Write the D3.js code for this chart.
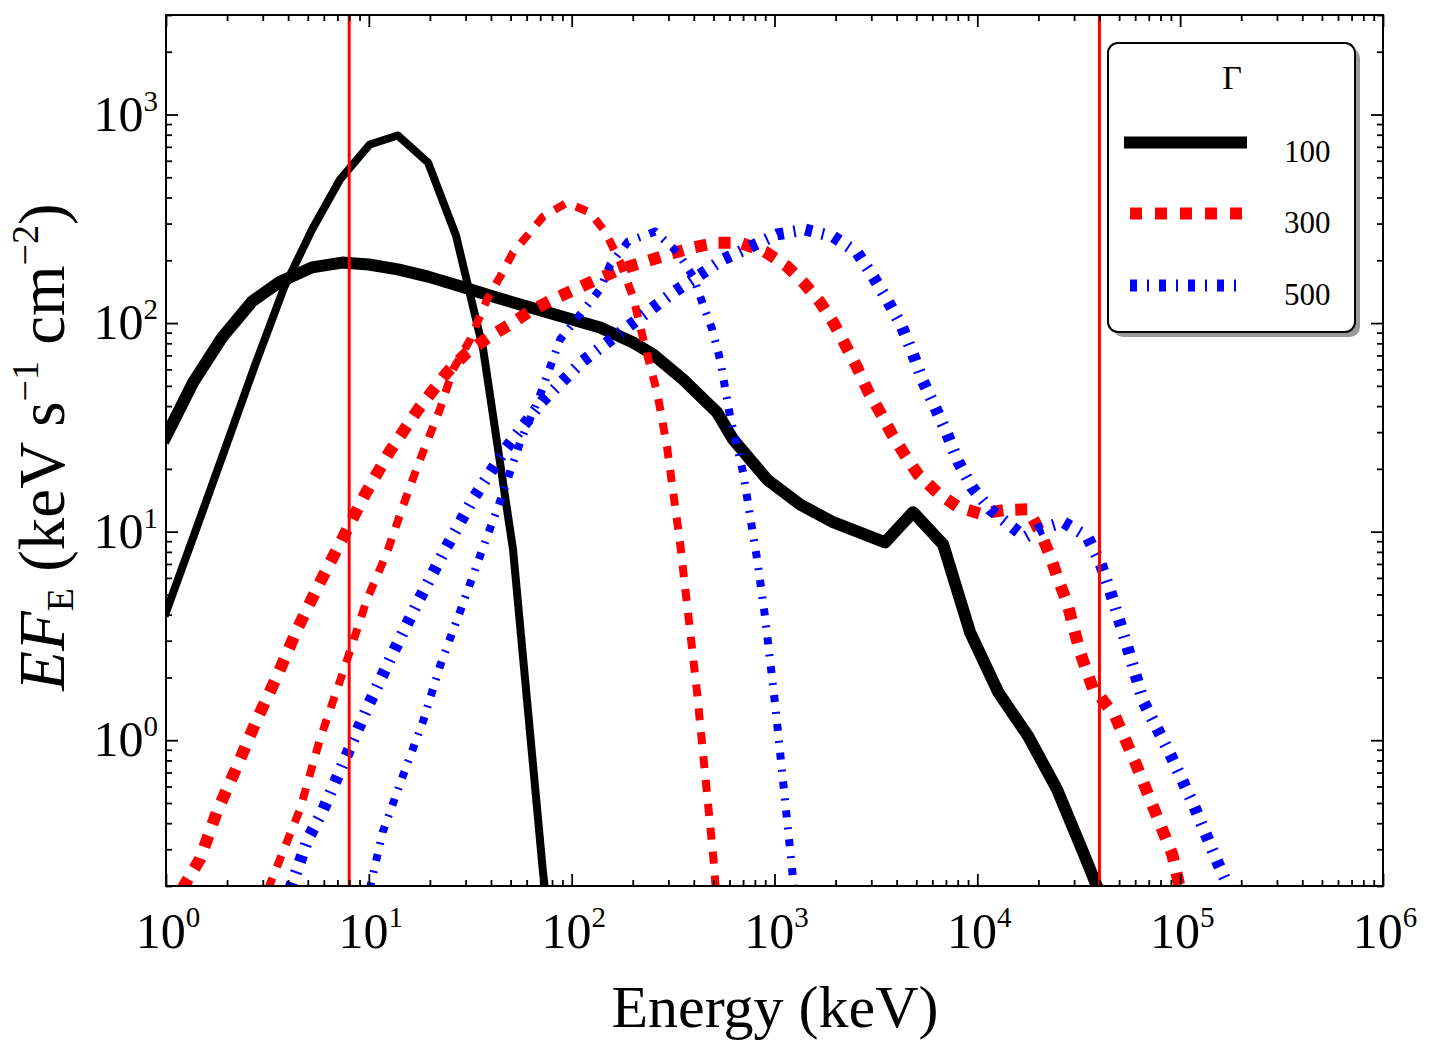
<!DOCTYPE html>
<html><head><meta charset="utf-8">
<script src="https://cdn.jsdelivr.net/npm/d3@7"></script>
<style>
body{margin:0;background:#fff}
svg{display:block}
text{font-family:"Liberation Serif","DejaVu Serif",serif;fill:#000;white-space:pre}
</style>
</head><body>
<svg id="c" width="1431" height="1056"></svg>
<script>
// ---------------- data (keV, keV s^-1 cm^-2) ----------------
const energyBlackNarrow = [1, 1.41, 1.95, 2.75, 3.82, 5.25, 7.21, 10.1, 13.9, 19.6, 26.9, 36.6, 51.4, 72.3, 75];
const fluxBlackNarrow   = [4.1, 10.3, 24.8, 63, 148, 281, 488, 718, 793, 588, 263, 75, 8.2, 0.23, 0.17];

const energyBlackBroad = [1, 1.36, 1.89, 2.66, 3.65, 5.25, 7.38, 10, 13.9, 19.6, 28.2, 41, 60.3, 87.7, 138, 201, 252, 354, 521, 625, 919, 1337, 1945, 3510, 4820, 6780, 9210, 12670, 17800, 24700, 33200, 40300];
const fluxBlackBroad   = [28.6, 51.9, 85.3, 127, 158, 185, 195, 191, 181, 167, 150, 134, 120, 108, 95.3, 80.7, 70.8, 53.7, 37.3, 27.7, 17.8, 13.5, 11.1, 8.89, 12.4, 8.69, 3.29, 1.70, 1.045, 0.582, 0.291, 0.183];

const energyRedNarrow = [3.18, 4.58, 5.74, 7.46, 9.8, 12.3, 14.7, 17.9, 22.4, 26, 31.6, 38.3, 44.4, 51.4, 62.3, 72.3, 94.9, 123, 146, 173, 201, 230, 264, 295, 342, 415, 504, 515];
const fluxRedNarrow   = [0.193, 0.467, 1.01, 2.12, 4.74, 7.96, 13.2, 22.2, 38.5, 59.9, 83.4, 130, 167, 218, 272, 324, 378, 339, 275, 197, 133, 77.3, 46.5, 25.6, 8.89, 1.70, 0.249, 0.183];

const energyRedBroad = [1.2, 1.47, 1.78, 2.24, 2.81, 3.53, 4.43, 5.74, 7.38, 9.58, 12.7, 17.5, 24.3, 30.5, 38.7, 48.6, 62.3, 80.9, 104, 133, 173, 230, 299, 392, 521, 676, 899, 1153, 1383, 1678, 1945, 2230, 2555, 2895, 3318, 3800, 4405, 5100, 6340, 8040, 10300, 13700, 17800, 20400, 22900, 25000, 27700, 32100, 37200, 40300, 47800, 60000, 73600, 91400, 100000];
const fluxRedBroad   = [0.193, 0.269, 0.452, 0.750, 1.26, 2.03, 3.40, 5.71, 9.18, 15.1, 24.3, 38.6, 58, 72.3, 85.3, 97.3, 114, 130, 145, 162, 181, 197, 213, 230, 243, 243, 220, 187, 157, 126, 101, 78.9, 61.2, 47, 37.3, 29.2, 23.2, 18.8, 15.4, 13.1, 12.2, 12.7, 12.8, 9.93, 7.62, 5.91, 4.58, 2.64, 1.76, 1.62, 1.30, 0.785, 0.478, 0.284, 0.193];

const energyBlueNarrow = [10.1, 11.7, 14.7, 18.5, 22.4, 28.2, 35.3, 44.4, 55.7, 69.8, 87.7, 110, 138, 155, 190, 258, 295, 331, 397, 440, 493, 539, 604, 700, 776, 821, 899, 1007, 1115, 1250];
const fluxBlueNarrow   = [0.193, 0.362, 0.672, 1.23, 2.26, 4.15, 7.62, 14, 26.8, 45, 83.4, 110, 145, 191, 246, 275, 243, 220, 167, 126, 93.2, 66.9, 35.7, 19.2, 10.3, 7.37, 3.88, 1.49, 0.570, 0.193];

const energyBlueBroad = [4.09, 5.01, 5.88, 7.63, 9.91, 13.2, 17.5, 23.8, 32.6, 47, 71.5, 113, 190, 316, 558, 1030, 1415, 1945, 2555, 3064, 3630, 4260, 4820, 5400, 6200, 7100, 8040, 9420, 11560, 14860, 17200, 20400, 26500, 34800, 40300, 45200, 54800, 65700, 89300, 116000, 152000, 180000];
const fluxBlueBroad   = [0.193, 0.336, 0.452, 0.811, 1.46, 2.64, 4.63, 8.23, 14.3, 24.8, 42.1, 65.5, 96.3, 140, 202, 266, 281, 260, 218, 167, 127, 95.3, 70.8, 52.5, 39.4, 29.3, 21.7, 16.3, 12.8, 10.5, 9.4, 10.3, 11.1, 9.49, 7.13, 5.18, 2.82, 1.54, 0.857, 0.494, 0.263, 0.183];

const detectorBandEdges = [8, 40000];          // keV, vertical lines
const gammaLabels = ["100", "300", "500"];
const xMajorTicks = [1, 10, 100, 1e3, 1e4, 1e5, 1e6];
const xTickExponents = ["0", "1", "2", "3", "4", "5", "6"];
const yMajorTicks = [1, 10, 100, 1000];
const yTickExponents = ["0", "1", "2", "3"];

// ---------------- styles ----------------
const seriesStyles = [
  {E: energyBlackNarrow, F: fluxBlackNarrow, color: "#000000", width: 8,  dash: null},
  {E: energyBlackBroad,  F: fluxBlackBroad,  color: "#000000", width: 12, dash: null},
  {E: energyRedNarrow,   F: fluxRedNarrow,   color: "#ff0000", width: 8,  dash: "12,12"},
  {E: energyRedBroad,    F: fluxRedBroad,    color: "#ff0000", width: 12, dash: "12,12"},
  {E: energyBlueNarrow,  F: fluxBlueNarrow,  color: "#0000ff", width: 8,  dash: "7,10,2,10"},
  {E: energyBlueBroad,   F: fluxBlueBroad,   color: "#0000ff", width: 12, dash: "7,10,2,10"}
];
const legendStyles = [
  {color: "#000000", dash: null, width: 12},
  {color: "#ff0000", dash: "12,13", width: 12},
  {color: "#0000ff", dash: "7,10,2,10", width: 12}
];

// ---------------- layout ----------------
const L = 166, R = 1383, T = 15, B = 886;
const svg = d3.select("#c");
svg.append("rect").attr("width", 1431).attr("height", 1056).attr("fill", "#fff");

const x = d3.scaleLog().domain([1, 1e6]).range([L, R]);
const y = d3.scaleLog().domain([0.2, 3000]).range([B, T]);

svg.append("defs").append("clipPath").attr("id", "plotclip")
  .append("rect").attr("x", L).attr("y", T).attr("width", R - L).attr("height", B - T);

// curves
const line = d3.line().x(d => x(d[0])).y(d => y(d[1]));
const curves = svg.append("g").attr("clip-path", "url(#plotclip)");
seriesStyles.forEach(s => {
  const pts = s.E.map((e, i) => [e, s.F[i]]);
  curves.append("path").datum(pts).attr("d", line)
    .attr("fill", "none").attr("stroke", s.color).attr("stroke-width", s.width)
    .attr("stroke-linejoin", "round")
    .attr("stroke-linecap", s.dash ? "butt" : "square")
    .attr("stroke-dasharray", s.dash);
});

// vertical band edges
curves.selectAll("line.vl").data(detectorBandEdges).enter().append("line")
  .attr("x1", d => x(d)).attr("x2", d => x(d)).attr("y1", T).attr("y2", B)
  .attr("stroke", "#ff0000").attr("stroke-width", 3);

// ticks
function minorTicks(lo, hi) {
  const out = [];
  for (let e = Math.floor(Math.log10(lo)) - 1; e <= Math.ceil(Math.log10(hi)); e++) {
    for (let m = 2; m <= 9; m++) {
      const v = m * Math.pow(10, e);
      if (v >= lo * 0.999 && v <= hi * 1.001) out.push(v);
    }
  }
  return out;
}
const xMinor = minorTicks(1, 1e6);
const yMinor = minorTicks(0.2, 3000);

function tickAxis(gen, scale, vals, size, tr) {
  svg.append("g").attr("transform", tr)
    .call(gen(scale).tickValues(vals).tickSize(size).tickSizeOuter(0).tickFormat(() => ""))
    .call(g => { g.select(".domain").remove(); g.selectAll(".tick line").attr("stroke", "#000").attr("stroke-width", 1.8); });
}
tickAxis(d3.axisBottom, x, xMajorTicks, -12, `translate(0,${B})`);
tickAxis(d3.axisBottom, x, xMinor, -6, `translate(0,${B})`);
tickAxis(d3.axisTop, x, xMajorTicks, -12, `translate(0,${T})`);
tickAxis(d3.axisTop, x, xMinor, -6, `translate(0,${T})`);
tickAxis(d3.axisLeft, y, yMajorTicks, -12, `translate(${L},0)`);
tickAxis(d3.axisLeft, y, yMinor, -6, `translate(${L},0)`);
tickAxis(d3.axisRight, y, yMajorTicks, -12, `translate(${R},0)`);
tickAxis(d3.axisRight, y, yMinor, -6, `translate(${R},0)`);

// frame
svg.append("rect").attr("x", L).attr("y", T).attr("width", R - L).attr("height", B - T)
  .attr("fill", "none").attr("stroke", "#000").attr("stroke-width", 2);

// tick labels
const xl = svg.append("g");
xMajorTicks.forEach((v, i) => {
  const t = xl.append("text").attr("x", x(v) + 2).attr("y", 948).attr("text-anchor", "middle").attr("font-size", 50);
  t.append("tspan").text("10");
  t.append("tspan").attr("font-size", 29).attr("dy", -21).text(xTickExponents[i]);
});
const yl = svg.append("g");
yMajorTicks.forEach((v, i) => {
  const t = yl.append("text").attr("x", 158).attr("y", y(v) + 16).attr("text-anchor", "end").attr("font-size", 50);
  t.append("tspan").text("10");
  t.append("tspan").attr("font-size", 29).attr("dy", -20).text(yTickExponents[i]);
});

// axis titles
svg.append("text").attr("x", 775).attr("y", 1027).attr("text-anchor", "middle")
  .attr("font-size", 60).text("Energy (keV)");

const yt = svg.append("text").attr("transform", "translate(64,447) rotate(-90)")
  .attr("text-anchor", "middle").attr("font-size", 65);
yt.append("tspan").attr("font-style", "italic").text("EF");
yt.append("tspan").attr("font-size", 38).attr("dy", 9).text("E");
yt.append("tspan").attr("dy", -9).text(" (keV s");
yt.append("tspan").attr("font-size", 38).attr("dy", -26).text("\u22121");
yt.append("tspan").attr("dy", 26).text(" cm");
yt.append("tspan").attr("font-size", 38).attr("dy", -26).text("\u22122");
yt.append("tspan").attr("dy", 26).text(")");

// legend
const lg = svg.append("g");
lg.append("rect").attr("x", 1113).attr("y", 48).attr("width", 247).attr("height", 289).attr("rx", 10).attr("fill", "#9a9a9a");
lg.append("rect").attr("x", 1108).attr("y", 43).attr("width", 247).attr("height", 289).attr("rx", 10)
  .attr("fill", "#fff").attr("stroke", "#000").attr("stroke-width", 2);
lg.append("text").attr("x", 1232).attr("y", 89).attr("text-anchor", "middle").attr("font-size", 34).text("\u0393");
const legendRowY = [142.5, 213.5, 285.5];
legendStyles.forEach((s, i) => {
  lg.append("line").attr("x1", s.dash ? 1130 : 1124).attr("x2", s.dash ? 1242 : 1247)
    .attr("y1", legendRowY[i]).attr("y2", legendRowY[i])
    .attr("stroke", s.color).attr("stroke-width", s.width).attr("stroke-dasharray", s.dash);
  lg.append("text").attr("x", 1284).attr("y", legendRowY[i] + 19).attr("font-size", 31).text(gammaLabels[i]);
});
</script>
</body></html>
